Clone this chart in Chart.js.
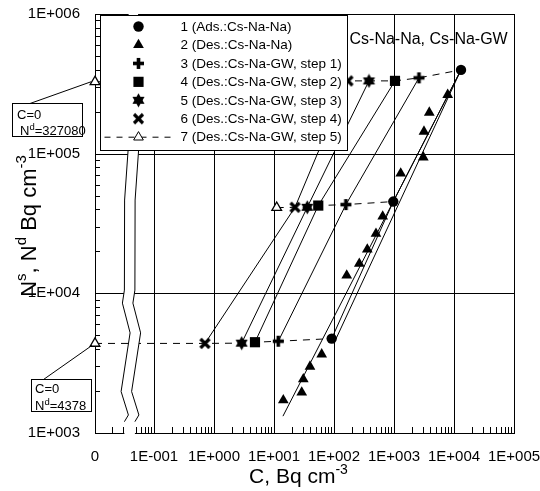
<!DOCTYPE html>
<html><head><meta charset="utf-8">
<script src="https://cdn.jsdelivr.net/npm/chart.js@4.4.0/dist/chart.umd.min.js"></script>
<style>html,body{margin:0;padding:0;background:#fff;overflow:hidden}#wrap{width:540px;height:491px;position:relative}</style>
</head><body><div id="wrap"><canvas id="c" width="540" height="491"></canvas></div>
<script>
// ---- categories ----
const seriesNames = ['1 (Ads.:Cs-Na-Na)','2 (Des.:Cs-Na-Na)','3 (Des.:Cs-Na-GW, step 1)','4 (Des.:Cs-Na-GW, step 2)','5 (Des.:Cs-Na-GW, step 3)','6 (Des.:Cs-Na-GW, step 4)','7 (Des.:Cs-Na-GW, step 5)'];
const chartLabel = 'Cs-Na-Na, Cs-Na-GW';
// ---- series values: C (Bq cm-3) and N (Bq cm-3); C = 0 sits on the "0" of the broken axis ----
const s1C = [91.5, 973, 13090];
const s1N = [4740, 45400, 398000];
const s2C = [14.3, 29, 30.8, 39.8, 62.4, 163, 264, 359, 501, 648, 1294, 3080, 3160, 3875, 7850];
const s2N = [1720, 1955, 2430, 2990, 3660, 13440, 16300, 20600, 26700, 35500, 72300, 94200, 144000, 197000, 264000];
const s3C = [11.8, 158, 2610];
const s3N = [4540, 43200, 349000];
const s4C = [4.82, 54.7, 1039];
const s4N = [4467, 42500, 332000];
const s5C = [2.89, 35.9, 383];
const s5N = [4400, 41300, 332000];
const s6C = [0.708, 22.4, 171];
const s6N = [4380, 41300, 332000];
const s7C = [0, 11.1, 0];
const s7N = [4378, 41100, 327080];
// regression lines drawn for series 2 (end points)
const fit2aC = [14.1, 13090];
const fit2aN = [1320, 398000];
const fit2bC = [100, 13090];
const fit2bN = [4400, 398000];
// ---- tick labels ----
const xTickValues = [0, 0.1, 1, 10, 100, 1000, 10000, 100000];
const xTickLabels = ['0', '1E-001', '1E+000', '1E+001', '1E+002', '1E+003', '1E+004', '1E+005'];
const yTickValues = [1000, 10000, 100000, 1000000];
const yTickLabels = ['1E+003', '1E+004', '1E+005', '1E+006'];
const noteLow = ['C=0', 'N', 'd', '=4378'];
const noteHigh = ['C=0', 'N', 'd', '=327080'];

const FF = "'Liberation Sans', Arial, sans-serif";
const X0 = 0.0104; // value where the "0" of the broken axis sits
const toX = c => (c === 0 ? X0 : c);
const pts = (C, N) => C.map((c, i) => ({x: toX(c), y: N[i]}));

function mk(size, draw) {
  const cv = document.createElement('canvas');
  cv.width = size; cv.height = size;
  const g = cv.getContext('2d');
  g.fillStyle = '#000'; g.strokeStyle = '#000';
  draw(g, size / 2);
  return cv;
}
const plusImg = mk(13, (g, c) => { g.fillRect(c - 1.8, 1, 3.6, 11); g.fillRect(1, c - 1.8, 11, 3.6); });
const xImg = mk(13, (g, c) => { g.lineWidth = 3.2; g.beginPath(); g.moveTo(2, 2); g.lineTo(11, 11); g.moveTo(11, 2); g.lineTo(2, 11); g.stroke(); });
const starImg = mk(15, (g, c) => {
  const R = 7;
  [-90, 90].forEach(a0 => {
    g.beginPath();
    for (let k = 0; k < 3; k++) {
      const a = (a0 + k * 120) * Math.PI / 180;
      const px = c + R * Math.cos(a), py = c + R * Math.sin(a);
      k ? g.lineTo(px, py) : g.moveTo(px, py);
    }
    g.closePath(); g.fill();
  });
});

const markerStyles = [
  {pointStyle: 'circle', radius: 5.2},
  {pointStyle: 'triangle', radius: 6.2},
  {pointStyle: plusImg, radius: 6},
  {pointStyle: 'rect', radius: 7.2},
  {pointStyle: starImg, radius: 6},
  {pointStyle: xImg, radius: 6},
  {pointStyle: 'triangle', radius: 5.6, open: true}
];
const seriesC = [s1C, s2C, s3C, s4C, s5C, s6C, s7C];
const seriesN = [s1N, s2N, s3N, s4N, s5N, s6N, s7N];
const withLine = [true, false, true, true, true, true, false];

const datasets = seriesC.map((C, i) => {
  const m = markerStyles[i];
  return {
    label: seriesNames[i],
    data: pts(C, seriesN[i]),
    showLine: withLine[i],
    borderColor: '#000', borderWidth: 1,
    pointStyle: m.pointStyle, pointRadius: m.radius, pointHoverRadius: m.radius,
    pointBackgroundColor: m.open ? '#fff' : '#000',
    pointBorderColor: '#000', pointBorderWidth: m.open ? 1.3 : 0,
    clip: false
  };
});
// dashed lines joining the successive steps of the same run
function row(r) {
  const list = [[s7C, s7N], [s6C, s6N], [s5C, s5N], [s4C, s4N], [s3C, s3N], [s1C, s1N]];
  return {C: list.map(a => a[0][r]), N: list.map(a => a[1][r])};
}
const lineDs = (C, N, dash) => ({label: '', data: pts(C, N), showLine: true, borderColor: '#000', borderWidth: 1, borderDash: dash || [], pointRadius: 0, pointHoverRadius: 0, clip: false});
[0, 1, 2].forEach(r => { const q = row(r); datasets.push(lineDs(q.C, q.N, [7, 6])); });
datasets.push(lineDs(fit2aC, fit2aN));
datasets.push(lineDs(fit2bC, fit2bN));

function richText(ctx, parts, x, y, align) {
  let w = 0;
  parts.forEach(p => { ctx.font = p[1] + 'px ' + FF; w += ctx.measureText(p[0]).width; });
  let cx = align === 'center' ? x - w / 2 : x;
  ctx.textAlign = 'left'; ctx.textBaseline = 'alphabetic';
  parts.forEach(p => { ctx.font = p[1] + 'px ' + FF; ctx.fillText(p[0], cx, y + (p[2] || 0)); cx += ctx.measureText(p[0]).width; });
}

const deco = {
  id: 'deco',
  beforeDatasetsDraw(chart) {
    const {ctx, chartArea: a, scales: {x, y}} = chart;
    ctx.save(); ctx.strokeStyle = '#000'; ctx.lineWidth = 1;
    ctx.beginPath();
    xTickValues.slice(1).forEach(v => { const p = Math.round(x.getPixelForValue(v)) + 0.5; ctx.moveTo(p, a.top); ctx.lineTo(p, a.bottom); });
    yTickValues.forEach(v => { const p = Math.round(y.getPixelForValue(v)) + 0.5; ctx.moveTo(a.left, p); ctx.lineTo(a.right, p); });
    for (let k = -2; k < 5; k++) for (let m = 2; m < 10; m++) {
      const v = m * Math.pow(10, k); if (v <= X0) continue;
      const p = Math.round(x.getPixelForValue(v)) + 0.5; ctx.moveTo(p, a.bottom); ctx.lineTo(p, a.bottom - 6);
    }
    for (let k = 3; k < 6; k++) for (let m = 2; m < 10; m++) {
      const p = Math.round(y.getPixelForValue(m * Math.pow(10, k))) + 0.5; ctx.moveTo(a.left, p); ctx.lineTo(a.left + 5, p);
    }
    ctx.stroke();
    ctx.strokeRect(Math.round(a.left) + 0.5, Math.round(a.top) + 0.5, Math.round(a.right - a.left), Math.round(a.bottom - a.top));
    ctx.restore();
  },
  afterDatasetsDraw(chart) {
    const {ctx, chartArea: a, scales: {x, y}} = chart;
    const H = a.bottom - a.top;
    ctx.save();
    // axis break
    const xc = x.getPixelForValue(0.04);
    const zig = [[-2, 0], [-2, 0.325], [-5.5, 0.444], [-5.7, 0.659], [-7.7, 0.69], [0, 0.761], [-9, 0.901], [-1.7, 0.957], [-5.7, 0.973]];
    const gap = 10.5;
    ctx.fillStyle = '#fff';
    ctx.beginPath();
    zig.forEach((p, i) => { const px = xc + p[0], py = a.top + p[1] * H; i ? ctx.lineTo(px, py) : ctx.moveTo(px, py); });
    ctx.lineTo(xc - 5.7, a.bottom + 2); ctx.lineTo(xc - 5.7 + gap, a.bottom + 2);
    for (let i = zig.length - 1; i >= 0; i--) ctx.lineTo(xc + zig[i][0] + gap, a.top + zig[i][1] * H);
    ctx.closePath(); ctx.fill();
    ctx.strokeStyle = '#000'; ctx.lineWidth = 1;
    [0, gap].forEach(off => {
      ctx.beginPath();
      zig.forEach((p, i) => { const px = xc + p[0] + off, py = a.top + p[1] * H; i ? ctx.lineTo(px, py) : ctx.moveTo(px, py); });
      ctx.stroke();
    });
    // legend
    const lx = a.left + 5.5, ly = a.top + 1.5, lw = 247, lh = 135;
    ctx.fillStyle = '#fff'; ctx.fillRect(lx, ly, lw, lh);
    ctx.strokeRect(lx, ly, lw, lh);
    const mxp = lx + 38, txp = lx + 80;
    seriesNames.forEach((name, i) => {
      const ry = ly + 11 + i * 18.45;
      const m = markerStyles[i];
      if (i === 6) {
        ctx.save(); ctx.setLineDash([6, 6]); ctx.beginPath(); ctx.moveTo(lx + 4, ry); ctx.lineTo(lx + 76, ry); ctx.stroke(); ctx.restore();
      }
      ctx.fillStyle = m.open ? '#fff' : '#000'; ctx.strokeStyle = '#000';
      Chart.helpers.drawPoint(ctx, {pointStyle: m.pointStyle, rotation: 0, radius: m.radius, borderWidth: m.open ? 1.3 : 0}, mxp, ry);
      ctx.fillStyle = '#000';
      ctx.font = '13.5px ' + FF; ctx.textAlign = 'left'; ctx.textBaseline = 'middle';
      ctx.fillText(name, txp, ry + 0.5);
    });
    // chart label
    ctx.font = '16px ' + FF; ctx.textBaseline = 'middle'; ctx.fillText(chartLabel, lx + 249, a.top + 25.5);
    // notes with leader lines
    ctx.strokeStyle = '#000'; ctx.lineWidth = 1;
    const tHi = {x: x.getPixelForValue(X0), y: y.getPixelForValue(s7N[2])};
    const tLo = {x: x.getPixelForValue(X0), y: y.getPixelForValue(s7N[0])};
    ctx.beginPath(); ctx.moveTo(30, 103.5); ctx.lineTo(tHi.x - 4, tHi.y); ctx.stroke();
    ctx.beginPath(); ctx.moveTo(43.5, 379.5); ctx.lineTo(tLo.x - 3, tLo.y + 2); ctx.stroke();
    ctx.fillStyle = '#fff'; ctx.fillRect(12.5, 103.5, 70, 33); ctx.fillRect(31.5, 379.5, 60, 32);
    ctx.strokeRect(12.5, 103.5, 70, 33); ctx.strokeRect(31.5, 379.5, 60, 32);
    ctx.fillStyle = '#000';
    richText(ctx, [[noteHigh[0], 13]], 17, 118.5);
    richText(ctx, [[noteHigh[1], 13], [noteHigh[2], 9.5, -5], [noteHigh[3], 13]], 20, 135);
    richText(ctx, [[noteLow[0], 13]], 35, 393);
    richText(ctx, [[noteLow[1], 13], [noteLow[2], 9.5, -5], [noteLow[3], 13]], 35, 409.5);
    // axis titles
    richText(ctx, [['C, Bq cm', 21], ['-3', 14, -9]], 298.5, 483, 'center');
    ctx.save(); ctx.translate(36, 226); ctx.rotate(-Math.PI / 2);
    richText(ctx, [['N', 22], ['s', 15, -10], [', N', 22], ['d', 15, -10], [' Bq cm', 22], ['-3', 15, -10]], 0, 0, 'center');
    ctx.restore();
    ctx.restore();
  }
};

Chart.defaults.font.family = FF;
Chart.defaults.font.size = 15;
Chart.defaults.color = '#000';

const noPad = s => { s.paddingLeft = 0; s.paddingRight = 0; s.paddingTop = 0; s.paddingBottom = 0; };

new Chart(document.getElementById('c'), {
  type: 'scatter',
  data: {datasets},
  options: {
    responsive: false, animation: false, devicePixelRatio: 1,
    layout: {padding: {top: 14, right: 26, left: 0, bottom: 0}},
    plugins: {legend: {display: false}, tooltip: {enabled: false}},
    scales: {
      x: {
        type: 'logarithmic', min: X0, max: 100000,
        grid: {display: false}, border: {display: false},
        afterBuildTicks: s => { s.ticks = xTickValues.map(v => ({value: toX(v)})); },
        afterFit: s => { s.height = 58; noPad(s); },
        ticks: {autoSkip: false, maxRotation: 0, padding: 7, callback: (v, i) => xTickLabels[i]}
      },
      y: {
        type: 'logarithmic', min: 1000, max: 1000000,
        grid: {display: false}, border: {display: false},
        afterBuildTicks: s => { s.ticks = yTickValues.map(v => ({value: v})); },
        afterFit: s => { s.width = 95; noPad(s); },
        ticks: {autoSkip: false, padding: 7, callback: (v, i) => yTickLabels[i]}
      }
    }
  },
  plugins: [deco]
});
</script></body></html>
